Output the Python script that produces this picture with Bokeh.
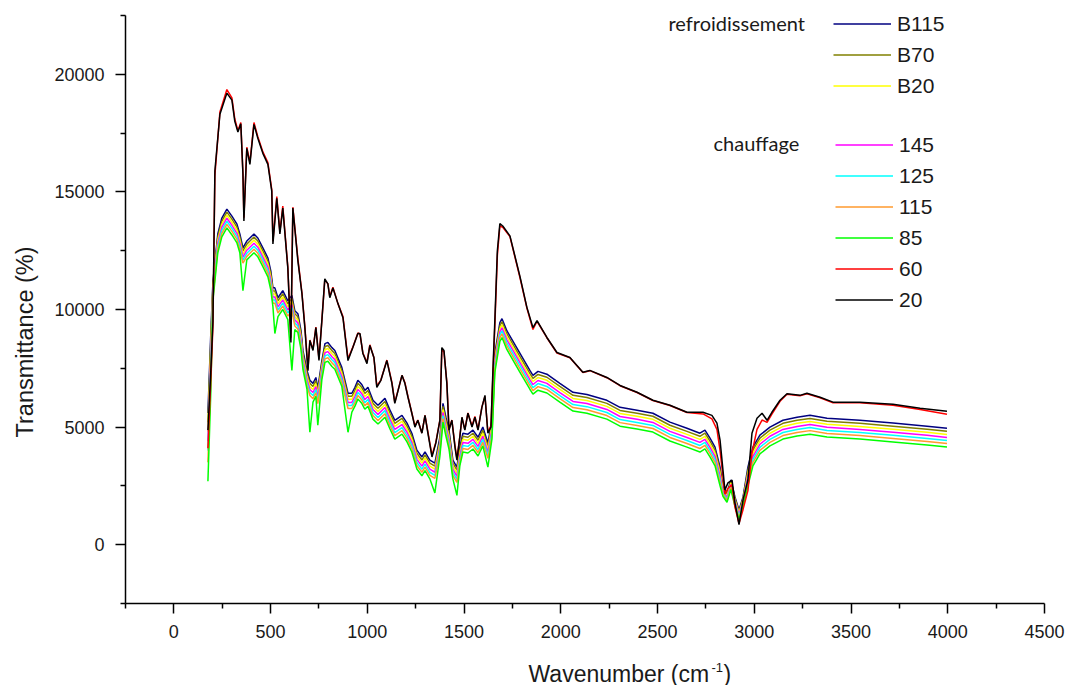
import math
from bokeh.plotting import figure
from bokeh.models import Range1d, FixedTicker, Legend, LegendItem, Label, BasicTickFormatter
from bokeh.embed import file_html
from bokeh.resources import INLINE

# ---- data ----
wn_high = [176, 191, 202, 212, 238, 274, 300, 315, 331, 346,
           357, 362, 377, 393, 414, 434, 460, 486, 506, 512,
           532, 548, 563, 589, 605, 615, 641, 662, 677, 693,
           703, 719, 734, 750, 765, 780, 796, 806, 822, 848,
           874, 900, 925, 951, 962, 977, 998, 1013, 1034, 1049,
           1070, 1101, 1127, 1142, 1179, 1194, 1210, 1230, 1246, 1261,
           1282, 1298, 1313, 1334, 1354, 1375, 1385, 1396, 1411, 1422,
           1437, 1453, 1463, 1478, 1489, 1504, 1520, 1541, 1556, 1572,
           1592, 1608, 1623, 1639, 1649, 1659, 1672, 1685, 1700, 1737,
           1789, 1825, 1856, 1877, 1928, 1980, 2047, 2114, 2150, 2238,
           2306, 2394, 2476, 2564, 2652, 2735, 2781, 2807, 2823, 2838,
           2848, 2864, 2885, 2900, 2921, 2942, 2967, 2988, 3014, 3040,
           3066, 3091, 3133, 3169, 3236, 3272, 3340, 3407, 3546, 3717,
           3857, 3996]

t_20 = [4870, 7400, 9500, 15900, 18300, 19200, 18900, 18000, 17550, 17900,
        15750, 13760, 16850, 16170, 17870, 17280, 16640, 16170, 15030, 12790,
        14730, 13210, 14310, 11770, 8600, 14310, 12070, 10670, 9230, 7400,
        8680, 8260, 9230, 7830, 9530, 11300, 11090, 10500, 10920, 10250,
        9650, 7830, 8380, 8980, 8980, 8130, 7700, 8470, 7960, 6690,
        6990, 7830, 6860, 6010, 7200, 6860, 6270, 5590, 5000, 5290,
        4740, 5500, 4740, 3730, 4320, 5290, 8380, 8260, 6860, 4870,
        5290, 4150, 3600, 4570, 5420, 4870, 5590, 5000, 5420, 4870,
        5840, 6350, 4740, 5000, 7410, 9530, 12500, 13650, 13550, 13130,
        11400, 10080, 9230, 9530, 8810, 8170, 7960, 7330, 7410, 7110,
        6770, 6480, 6140, 5930, 5630, 5630, 5500, 5170, 4450, 3180,
        2330, 2630, 2750, 1780, 850, 1910, 2750, 4740, 5380, 5590,
        5290, 5630, 6140, 6420, 6350, 6440, 6270, 6060, 6060, 5970,
        5800, 5670]

t_60 = [4100, 7000, 9300, 15700, 18400, 19350, 19000, 18100, 17600, 17950,
        15800, 13900, 16900, 16250, 17950, 17350, 16700, 16250, 15100, 12900,
        14800, 13300, 14400, 11800, 8800, 14350, 12150, 10700, 9300, 7450,
        8700, 8300, 9250, 7900, 9550, 11250, 11100, 10550, 10950, 10250,
        9700, 7900, 8400, 9000, 8950, 8150, 7750, 8500, 7950, 6750,
        7000, 7850, 6900, 6050, 7200, 6900, 6300, 5600, 5050, 5300,
        4750, 5500, 4800, 3800, 4350, 5300, 8300, 8200, 6900, 4900,
        5300, 4200, 3650, 4600, 5400, 4900, 5600, 5050, 5450, 4900,
        5850, 6300, 4800, 5050, 7200, 9300, 12300, 13550, 13500, 13100,
        11350, 10050, 9150, 9500, 8800, 8150, 7950, 7320, 7400, 7100,
        6760, 6470, 6130, 5920, 5620, 5560, 5350, 4900, 4000, 2900,
        2150, 2400, 2550, 1600, 900, 1500, 2300, 3900, 4900, 5300,
        5200, 5550, 6100, 6400, 6330, 6420, 6250, 6030, 6030, 5930,
        5750, 5550]

wn_low = [176, 191, 202, 212, 227, 248, 274, 300, 326, 341,
          357, 377, 393, 414, 434, 460, 486, 501, 512, 522,
          538, 563, 589, 610, 625, 641, 657, 667, 688, 703,
          719, 734, 744, 765, 781, 796, 817, 832, 868, 900,
          920, 936, 951, 962, 972, 987, 1003, 1029, 1055, 1091,
          1117, 1142, 1179, 1205, 1230, 1256, 1282, 1298, 1323, 1349,
          1375, 1391, 1406, 1422, 1442, 1463, 1478, 1494, 1520, 1546,
          1572, 1597, 1623, 1644, 1659, 1685, 1696, 1721, 1789, 1840,
          1856, 1882, 1928, 1995, 2063, 2135, 2238, 2306, 2394, 2476,
          2564, 2652, 2719, 2745, 2771, 2797, 2823, 2838, 2859, 2879,
          2900, 2921, 2942, 2967, 2993, 3029, 3081, 3148, 3221, 3288,
          3376, 3546, 3717, 3893, 3996]

t_B115 = [5600, 9000, 11200, 12000, 13210, 13890, 14270, 13970, 13630, 13210,
          12620, 12910, 13040, 13210, 13040, 12620, 12190, 11640, 10920, 10920,
          10500, 10800, 10370, 10600, 9950, 9820, 9100, 8260, 7410, 6990,
          6860, 7110, 6650, 7830, 8550, 8600, 8380, 8260, 7540, 6440,
          6440, 6690, 6990, 6900, 6800, 6560, 6690, 6140, 5930, 6220,
          5720, 5290, 5500, 5170, 4740, 4020, 3730, 3950, 3600, 3470,
          4570, 6010, 5420, 4870, 3600, 3300, 4150, 4740, 4700, 4870,
          4570, 5000, 4320, 5290, 8130, 9440, 9610, 9100, 8130, 7410,
          7200, 7370, 7250, 6860, 6480, 6390, 6140, 5840, 5720, 5590,
          5210, 4950, 4740, 4870, 4530, 4150, 3300, 2460, 2200, 2750,
          2030, 1480, 2030, 3300, 4150, 4660, 5000, 5290, 5420, 5500,
          5380, 5290, 5170, 5040, 4950]

t_B70 = [5200, 8700, 11070, 11870, 13080, 13760, 14140, 13840, 13500, 13080,
         12490, 12780, 12910, 13080, 12910, 12490, 12060, 11510, 10790, 10790,
         10370, 10670, 10240, 10470, 9820, 9690, 8970, 8130, 7280, 6860,
         6730, 6980, 6520, 7700, 8420, 8470, 8250, 8130, 7410, 6310,
         6310, 6560, 6860, 6770, 6670, 6430, 6560, 6010, 5800, 6090,
         5590, 5160, 5370, 5040, 4610, 3890, 3600, 3820, 3470, 3340,
         4440, 5880, 5290, 4740, 3470, 3170, 4020, 4610, 4570, 4740,
         4440, 4870, 4190, 5160, 8000, 9310, 9480, 8970, 8000, 7280,
         7070, 7240, 7120, 6730, 6350, 6260, 6010, 5710, 5590, 5460,
         5080, 4820, 4610, 4740, 4400, 4020, 3170, 2400, 2140, 2690,
         1970, 1420, 1970, 3170, 4020, 4530, 4870, 5160, 5290, 5370,
         5250, 5160, 5040, 4910, 4820]

t_B20 = [4800, 8400, 10940, 11740, 12950, 13630, 14010, 13710, 13370, 12950,
         12360, 12650, 12780, 12950, 12780, 12360, 11930, 11380, 10660, 10660,
         10240, 10540, 10110, 10340, 9690, 9560, 8840, 8000, 7150, 6730,
         6600, 6850, 6390, 7570, 8290, 8340, 8120, 8000, 7280, 6180,
         6180, 6430, 6730, 6640, 6540, 6300, 6430, 5880, 5670, 5960,
         5460, 5030, 5240, 4910, 4480, 3760, 3470, 3690, 3340, 3210,
         4310, 5750, 5160, 4610, 3340, 3040, 3890, 4480, 4440, 4610,
         4310, 4740, 4060, 5030, 7870, 9180, 9350, 8840, 7870, 7150,
         6940, 7110, 6990, 6600, 6220, 6130, 5880, 5580, 5460, 5330,
         4950, 4690, 4480, 4610, 4270, 3890, 3040, 2330, 2070, 2620,
         1900, 1350, 1900, 3040, 3890, 4400, 4740, 5030, 5160, 5240,
         5120, 5030, 4910, 4780, 4690]

t_145 = [4400, 8000, 10810, 11610, 12820, 13500, 13880, 13580, 13240, 12820,
         12230, 12520, 12650, 12820, 12650, 12230, 11800, 11250, 10530, 10530,
         10110, 10410, 9980, 10210, 9560, 9430, 8710, 7870, 7020, 6600,
         6470, 6720, 6260, 7440, 8160, 8210, 7990, 7870, 7150, 6050,
         6050, 6300, 6600, 6510, 6410, 6170, 6300, 5750, 5540, 5830,
         5330, 4900, 5110, 4780, 4350, 3630, 3340, 3560, 3210, 3080,
         4180, 5620, 5030, 4480, 3210, 2910, 3760, 4350, 4310, 4480,
         4180, 4610, 3930, 4900, 7740, 9050, 9220, 8710, 7740, 7020,
         6810, 6980, 6860, 6470, 6090, 6000, 5750, 5450, 5330, 5200,
         4820, 4560, 4350, 4480, 4140, 3760, 2910, 2270, 2010, 2560,
         1840, 1290, 1840, 2910, 3760, 4270, 4610, 4900, 5030, 5110,
         4990, 4900, 4780, 4650, 4560]

t_125 = [4000, 7600, 10680, 11480, 12690, 13370, 13750, 13450, 13110, 12690,
         12100, 12390, 12520, 12690, 12520, 12100, 11670, 11120, 10400, 10400,
         9980, 10280, 9850, 10080, 9430, 9300, 8580, 7740, 6890, 6470,
         6340, 6590, 6130, 7310, 8030, 8080, 7860, 7740, 7020, 5920,
         5920, 6170, 6470, 6380, 6280, 6040, 6170, 5620, 5410, 5700,
         5200, 4770, 4980, 4650, 4220, 3500, 3210, 3430, 3080, 2950,
         4050, 5490, 4900, 4350, 3080, 2780, 3630, 4220, 4180, 4350,
         4050, 4480, 3800, 4770, 7610, 8920, 9090, 8580, 7610, 6890,
         6680, 6850, 6730, 6340, 5960, 5870, 5620, 5320, 5200, 5070,
         4690, 4430, 4220, 4350, 4010, 3630, 2780, 2200, 1940, 2490,
         1770, 1220, 1770, 2780, 3630, 4140, 4480, 4770, 4900, 4980,
         4860, 4770, 4650, 4520, 4430]

t_115 = [3500, 7200, 10550, 11350, 12560, 13240, 13620, 13320, 12980, 12560,
         11970, 12260, 12390, 12560, 12390, 11970, 11540, 10990, 10270, 10270,
         9850, 10150, 9720, 9950, 9300, 9170, 8450, 7610, 6760, 6340,
         6210, 6460, 6000, 7180, 7900, 7950, 7730, 7610, 6890, 5790,
         5790, 6040, 6340, 6250, 6150, 5910, 6040, 5490, 5280, 5570,
         5070, 4640, 4850, 4520, 4090, 3370, 3080, 3300, 2950, 2820,
         3920, 5360, 4770, 4220, 2950, 2650, 3500, 4090, 4050, 4220,
         3920, 4350, 3670, 4640, 7480, 8790, 8960, 8450, 7480, 6760,
         6550, 6720, 6600, 6210, 5830, 5740, 5490, 5190, 5070, 4940,
         4560, 4300, 4090, 4220, 3880, 3500, 2650, 2140, 1880, 2430,
         1710, 1160, 1710, 2650, 3500, 4010, 4350, 4640, 4770, 4850,
         4730, 4640, 4520, 4390, 4300]

t_85 = [2700, 6500, 10400, 11200, 12410, 13090, 13470, 13170, 12830, 12410,
        10800, 12110, 12240, 12410, 12240, 11820, 11390, 10840, 10120, 8980,
        9700, 10000, 9570, 7410, 9150, 9020, 8300, 7460, 6610, 4780,
        6060, 6310, 5080, 7030, 7750, 7800, 7580, 7460, 6740, 4780,
        5640, 5890, 6190, 6100, 6000, 5760, 5890, 5340, 5130, 5420,
        4920, 4490, 4700, 4370, 3940, 3220, 2930, 3150, 2800, 2200,
        3770, 5210, 4620, 4070, 2800, 2100, 3350, 3940, 3900, 4070,
        3770, 4200, 3300, 4490, 7330, 8640, 8810, 8300, 7330, 6610,
        6400, 6570, 6450, 6060, 5680, 5590, 5340, 5040, 4920, 4790,
        4410, 4150, 3940, 4070, 3730, 3350, 2500, 2060, 1800, 2350,
        1630, 1080, 1630, 2500, 3350, 3860, 4200, 4490, 4620, 4700,
        4580, 4490, 4370, 4240, 4150]

cooling_labels = ["B115", "B70", "B20"]
heating_labels = ["145", "125", "115", "85", "60", "20"]
x_ticks = [0, 500, 1000, 1500, 2000, 2500, 3000, 3500, 4000, 4500]
x_minor = [-250, 250, 750, 1250, 1750, 2250, 2750, 3250, 3750, 4250]
y_ticks = [0, 5000, 10000, 15000, 20000]
y_minor = [-2500, 2500, 7500, 12500, 17500, 22500]

# ---- geometry: the frame fills the whole canvas, axes sit at fixed data locations ----
W, H = 1067, 685
AX_L, AX_R, AX_T, AX_B = 125, 1044, 15, 603          # canvas pixels of the axis box
X0, X1, Y0, Y1 = -250, 4500, -2500, 22500             # data extent of the axis box
ux = (X1 - X0) / (AX_R - AX_L)
uy = (Y1 - Y0) / (AX_B - AX_T)
x_range = Range1d(X0 - AX_L * ux, X1 + (W - AX_R) * ux)
y_range = Range1d(Y0 - (H - AX_B) * uy, Y1 + AX_T * uy)

p = figure(width=W, height=H, x_range=x_range, y_range=y_range,
           output_backend="svg", toolbar_location=None, title=None,
           min_border_left=0, min_border_right=0, min_border_top=0, min_border_bottom=0)
p.outline_line_color = None
p.grid.visible = False
p.background_fill_color = "white"
p.border_fill_color = "white"

for ax in (p.xaxis[0], p.yaxis[0]):
    ax.axis_line_color = "black"
    ax.axis_line_width = 1.5
    ax.major_tick_line_color = "black"
    ax.major_tick_line_width = 1.5
    ax.minor_tick_line_color = "black"
    ax.minor_tick_line_width = 1.5
    ax.major_tick_in = 0
    ax.major_tick_out = 10
    ax.minor_tick_in = 0
    ax.minor_tick_out = 5
    ax.major_label_text_font = "Liberation Sans"
    ax.major_label_text_font_size = "18px"
    ax.major_label_text_color = "#1a1a1a"
    ax.formatter = BasicTickFormatter(use_scientific=False)

p.xaxis.fixed_location = Y0
p.yaxis.fixed_location = X0
p.xaxis.bounds = (X0, X1)
p.yaxis.bounds = (Y0, Y1)
p.xaxis.ticker = FixedTicker(ticks=x_ticks, minor_ticks=x_minor)
p.yaxis.ticker = FixedTicker(ticks=y_ticks, minor_ticks=y_minor)
p.xaxis.major_label_standoff = 11
p.yaxis.major_label_standoff = 11

lw = 1.5
r_B115 = p.line(wn_low, t_B115, line_color="#000080", line_width=lw)
r_B70 = p.line(wn_low, t_B70, line_color="#808000", line_width=lw)
r_B20 = p.line(wn_low, t_B20, line_color="#FFFF00", line_width=lw)
r_145 = p.line(wn_low, t_145, line_color="#FF00FF", line_width=lw)
r_125 = p.line(wn_low, t_125, line_color="#00FFFF", line_width=lw)
r_115 = p.line(wn_low, t_115, line_color="#FF9A2E", line_width=lw)
r_85 = p.line(wn_low, t_85, line_color="#00FF00", line_width=lw)
r_60 = p.line(wn_high, t_60, line_color="#FF0000", line_width=lw)
r_20 = p.line(wn_high, t_20, line_color="#000000", line_width=lw)

def make_legend(labels, renderers, left, bottom):
    lg = Legend(items=[LegendItem(label=l, renderers=[r]) for l, r in zip(labels, renderers)],
                location=(left, H - bottom), orientation="vertical",
                padding=0, margin=0, spacing=6,
                glyph_width=58, glyph_height=25, label_height=25, label_standoff=6,
                label_text_font="Liberation Sans", label_text_font_size="21px",
                label_text_color="#1a1a1a",
                border_line_color=None, background_fill_alpha=0)
    p.add_layout(lg, "center")

make_legend(cooling_labels, [r_B115, r_B70, r_B20], 833, 98)
make_legend(heating_labels, [r_145, r_125, r_115, r_85, r_60, r_20], 835, 312)

def scr_label(text, cx, cy, size, font="Liberation Sans", angle=0.0):
    # (cx, cy): canvas pixel of the text's left end, vertically at its middle
    p.add_layout(Label(x=cx, y=H - cy, x_units="screen", y_units="screen", text=text,
                       text_font=font, text_font_size=size, text_align="left",
                       text_baseline="middle", angle=angle, text_color="#1a1a1a"))

scr_label("refroidissement", 668, 22, "20px", font="Lato")
scr_label("chauffage", 713, 142, "20px", font="Lato")

# axis titles
scr_label("Transmittance (%)", 24, 437, "23.5px", angle=math.pi / 2)
scr_label("Wavenumber (cm", 528, 673, "23px")
scr_label("-1", 711, 667, "13px")
scr_label(")", 723, 673, "23px")

open("out.html", "w").write(file_html(p, INLINE))
